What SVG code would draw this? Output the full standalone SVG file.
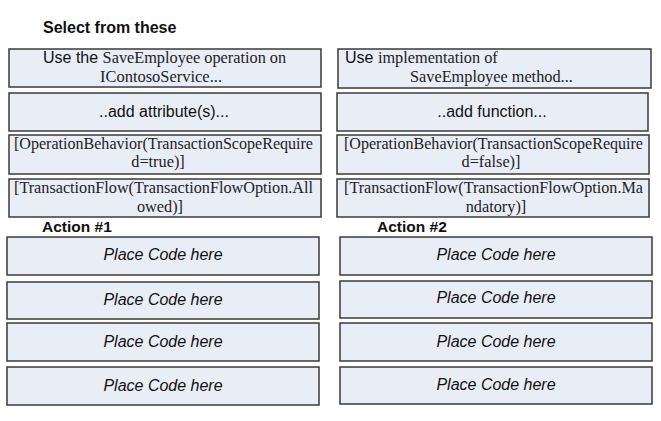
<svg xmlns="http://www.w3.org/2000/svg" width="661" height="421" viewBox="0 0 661 421">
<style>
.box{fill:#e9edf6;stroke:#3a3a3a;stroke-width:1.5}
.ar{font-family:"Liberation Sans",Arial,sans-serif;font-size:16px;fill:#111}
.tm{font-family:"Liberation Serif","Times New Roman",serif;font-size:16.3px;fill:#222}
.hd{font-family:"Liberation Sans",Arial,sans-serif;font-size:15.5px;font-weight:bold;fill:#111}
.pc{font-family:"Liberation Sans",Arial,sans-serif;font-size:16px;font-style:italic;fill:#111;text-anchor:middle}
.c{text-anchor:middle}
</style>
<rect width="661" height="421" fill="#fff"/>
<text class="hd" x="43" y="33" style="font-size:16px">Select  from these</text>
<g id="opt-l1"><rect class="box" x="9" y="49" width="312" height="38"/>
<text x="43" y="63"><tspan class="ar">Use the </tspan><tspan class="tm">SaveEmployee operation on</tspan></text>
<text class="tm" x="100" y="82" textLength="122" lengthAdjust="spacingAndGlyphs">IContosoService...</text></g>
<g id="opt-l2"><rect class="box" x="9" y="93" width="312" height="38"/>
<text class="ar c" x="164" y="117">..add attribute(s)...</text></g>
<g id="opt-l3"><rect class="box" x="9" y="135" width="312" height="39"/>
<text class="tm" x="14" y="149" textLength="299" lengthAdjust="spacingAndGlyphs">[OperationBehavior(TransactionScopeRequire</text>
<text class="tm c" x="158" y="167">d=true)]</text></g>
<g id="opt-l4"><rect class="box" x="9" y="179" width="312" height="38"/>
<text class="tm" x="14" y="193" textLength="299" lengthAdjust="spacingAndGlyphs">[TransactionFlow(TransactionFlowOption.All</text>
<text class="tm c" x="160" y="212">owed)]</text></g>
<g id="opt-r1"><rect class="box" x="338" y="49" width="313" height="39"/>
<text x="345" y="63"><tspan class="ar">Use </tspan><tspan class="tm">implementation of</tspan></text>
<text class="tm" x="410" y="82">SaveEmployee method...</text></g>
<g id="opt-r2"><rect class="box" x="337" y="93" width="311" height="38"/>
<text class="ar c" x="492" y="117">..add function...</text></g>
<g id="opt-r3"><rect class="box" x="337" y="135" width="312" height="39"/>
<text class="tm" x="344" y="149" textLength="299" lengthAdjust="spacingAndGlyphs">[OperationBehavior(TransactionScopeRequire</text>
<text class="tm c" x="491" y="167">d=false)]</text></g>
<g id="opt-r4"><rect class="box" x="337" y="179" width="312" height="38"/>
<text class="tm" x="344" y="193" textLength="299" lengthAdjust="spacingAndGlyphs">[TransactionFlow(TransactionFlowOption.Ma</text>
<text class="tm c" x="496" y="212">ndatory)]</text></g>
<text class="hd" x="42" y="232">Action #1</text>
<text class="hd" x="377" y="232">Action #2</text>
<g id="a1-1"><rect class="box" x="7" y="237" width="312" height="38"/><text class="pc" x="163" y="260">Place Code here</text></g>
<g id="a1-2"><rect class="box" x="7" y="282" width="312" height="37"/><text class="pc" x="163" y="305">Place Code here</text></g>
<g id="a1-3"><rect class="box" x="7" y="323" width="312" height="38"/><text class="pc" x="163" y="347">Place Code here</text></g>
<g id="a1-4"><rect class="box" x="7" y="367" width="312" height="38"/><text class="pc" x="163" y="391">Place Code here</text></g>
<g id="a2-1"><rect class="box" x="340" y="237" width="312" height="38"/><text class="pc" x="496" y="260">Place Code here</text></g>
<g id="a2-2"><rect class="box" x="340" y="281" width="312" height="37"/><text class="pc" x="496" y="303">Place Code here</text></g>
<g id="a2-3"><rect class="box" x="340" y="323" width="312" height="38"/><text class="pc" x="496" y="347">Place Code here</text></g>
<g id="a2-4"><rect class="box" x="340" y="367" width="312" height="37"/><text class="pc" x="496" y="390">Place Code here</text></g>
<g id="connectors"/>
</svg>
